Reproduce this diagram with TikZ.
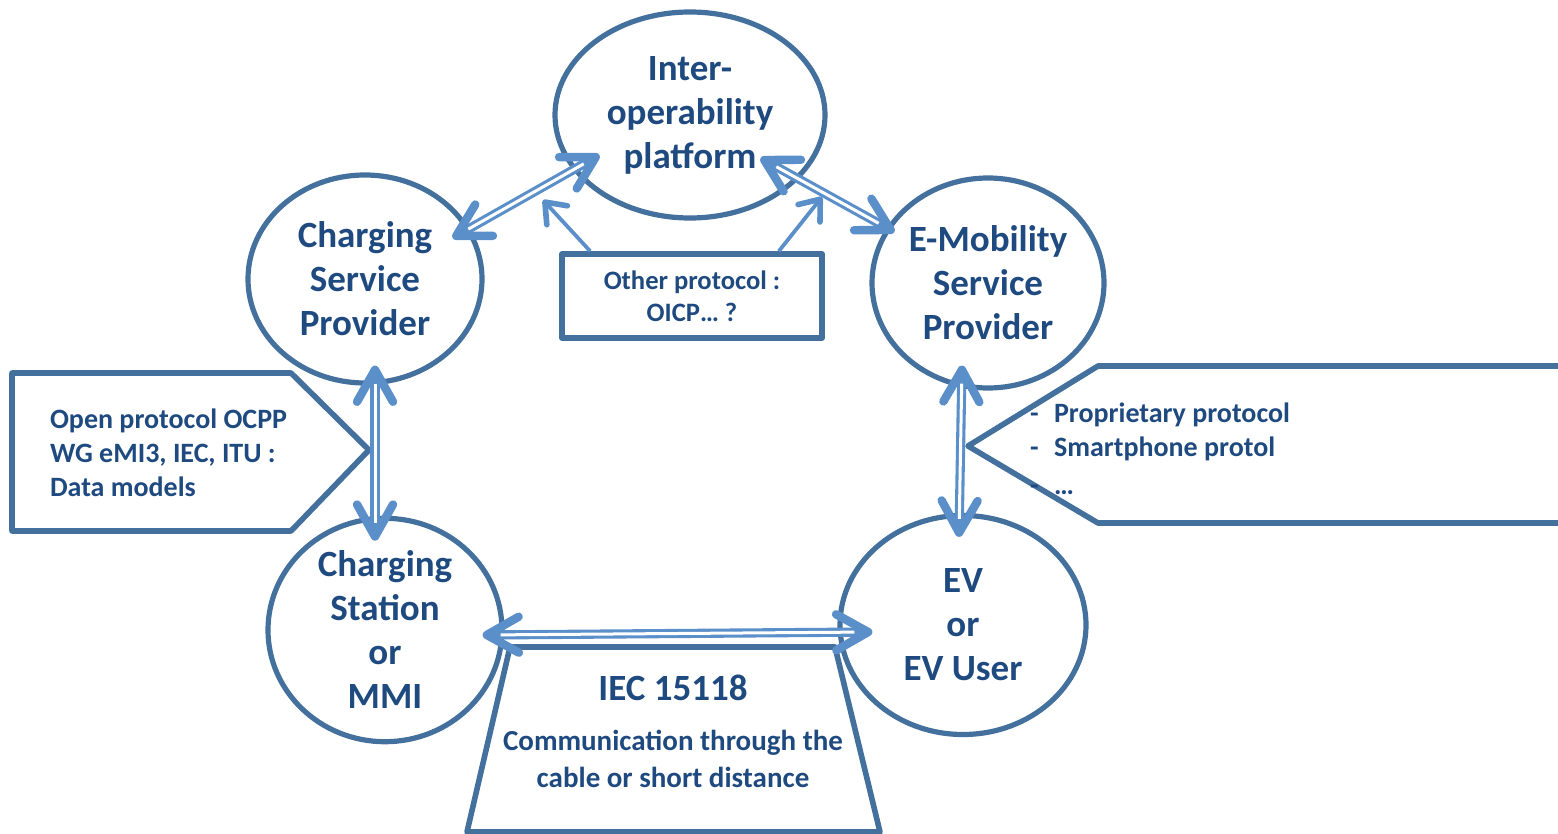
\documentclass[tikz,border=0pt]{standalone}
\usepackage{fontspec}
\setmainfont{Carlito}
\usetikzlibrary{shapes.geometric,arrows.meta,calc}

\definecolor{rim}{HTML}{44709E}
\definecolor{link}{HTML}{5B8FCA}
\definecolor{ink}{HTML}{1F4A80}

\begin{document}
\begin{tikzpicture}[x=0.5pt,y=-0.5pt,
    actor/.style={ellipse, draw=rim, line width=2.6pt, inner sep=0pt, text=ink, align=center,
      font=\fontsize{18.5}{22}\selectfont\bfseries},
    note/.style={text=ink, font=\fontsize{14}{17}\selectfont\bfseries},
    frame/.style={draw=rim, line width=2.8pt, line join=round},
    dbl/.style={draw=link, line width=4.6pt,
      {Straight Barb[length=16pt,width=18pt,line width=4.2pt,round]}-{Straight Barb[length=16pt,width=18pt,line width=4.2pt,round]},
      postaction={draw=white, line width=1.5pt, arrows=-, shorten <=9pt, shorten >=9pt}},
    sgl/.style={draw=link, line width=1.9pt, -{Straight Barb[length=9pt,width=14pt,line width=2.8pt,round]}}]

    \useasboundingbox (0,0) rectangle (1558,834);

    \node[actor, minimum width=135pt, minimum height=103pt] (iop) at (690,115) {Inter-\\operability\\platform};
    \node[actor, minimum width=117pt, minimum height=104pt] (csp) at (365,279) {Charging\\Service\\Provider};
    \node[actor, minimum width=116pt, minimum height=105pt] (emsp) at (988,283) {E-Mobility\\Service\\Provider};
    \node[actor, minimum width=117pt, minimum height=105pt] (cs) at (385,630) {Charging\\Station\\or\\MMI};
    \node[actor, minimum width=123pt, minimum height=109.5pt] (ev) at (963,625) {EV\\or\\EV User};

    \node[frame, rectangle, minimum width=130pt, minimum height=42pt, note, align=center,
      font=\fontsize{13.3}{16}\selectfont\bfseries] (other) at (692,296) {Other protocol :\\OICP\ldots\ ?};

    \draw[frame] (12,373) -- (291,373) -- (369,450) -- (291,531) -- (12,531) -- cycle;
    \node[note, anchor=west, align=left] (ocpp) at (43,453) {Open protocol OCPP\\WG eMI3, IEC, ITU :\\Data models};

    \draw[frame] (1558,366) -- (1098,366) -- (968,446) -- (1098,523) -- (1558,523);
    \node[note, anchor=west, align=left] (prop) at (1023,449)
      {\makebox[12pt][l]{-}Proprietary protocol\\\makebox[12pt][l]{-}Smartphone protol\\[2pt]\makebox[12pt][l]{-}\ldots};

    \draw[frame] (510,647) -- (835,647) -- (880,832) -- (467,832) -- cycle;
    \node[note, font=\fontsize{18.5}{22}\selectfont\bfseries] (iec) at (673,688) {IEC 15118};
    \node[note, align=center, font=\fontsize{14.5}{18.5}\selectfont\bfseries] (cable) at (673,759)
      {Communication through the\\cable or short distance};

    \draw[dbl] ($(csp.east)+(-32,-41)$) -- ($(iop.west)+(47,40)$);
    \draw[dbl] ($(iop.east)+(-67,43)$) -- ($(emsp.west)+(25,-51)$);
    \draw[dbl] ($(csp.south)+(10,-20)$) -- ($(cs.north)+(-10,25)$);
    \draw[dbl] ($(emsp.south)+(-26,-25)$) -- ($(ev.north)+(-4,24)$);
    \draw[dbl] ($(cs.east)+(-22,5)$) -- ($(ev.west)+(35,7)$);

    \coordinate (tipl) at (543,200);
    \coordinate (tipr) at (822,197);
    \draw[sgl] ($(other.north west)+(31,0)$) -- (tipl);
    \draw[sgl] ($(other.north east)+(-46,0)$) -- (tipr);

\end{tikzpicture}
\end{document}
